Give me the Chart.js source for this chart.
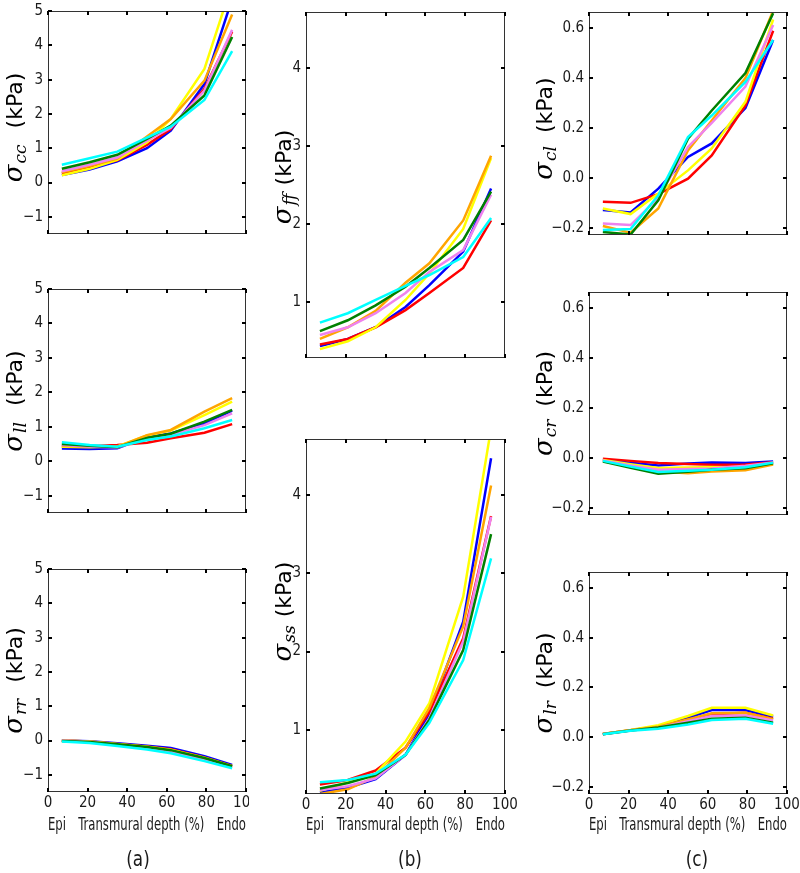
<!DOCTYPE html>
<html><head><meta charset="utf-8">
<script src="https://cdn.jsdelivr.net/npm/chart.js@4.4.0/dist/chart.umd.min.js"></script>
<style>
html,body{margin:0;padding:0;background:#fff;}
body{width:800px;height:873px;position:relative;overflow:hidden;}
canvas{position:absolute;}
.xt{position:absolute;display:flex;justify-content:space-between;font-family:'Liberation Sans Narrow','DejaVu Sans Condensed','Arial Narrow','Liberation Sans',sans-serif;font-size:18px;line-height:20px;color:#1a1a1a;white-space:nowrap;transform:scaleX(0.72);transform-origin:0 0;}
.pl{position:absolute;font-family:'Liberation Sans Narrow','DejaVu Sans Condensed','Arial Narrow','Liberation Sans',sans-serif;font-size:22px;line-height:24px;color:#1a1a1a;transform:translateX(-50%) scaleX(0.85);}
</style></head><body>
<script>
// ---- data ----
const depth = [7, 21, 35, 50, 62, 79, 93];
const xTicks = [0, 20, 40, 60, 80, 100];
const yTicksA = [-1, 0, 1, 2, 3, 4, 5];
const yTicksB = [1, 2, 3, 4];
const yTicksC = [-0.2, 0, 0.2, 0.4, 0.6];
// series order: cyan, green, violet, orange, yellow, red, blue
const seriesColors = ['#00ffff', '#008000', '#ee82ee', '#ffa500', '#ffff00', '#ff0000', '#0000ff'];

const sigma_cc = [
  [0.52, 0.71, 0.90, 1.31, 1.63, 2.41, 3.83],
  [0.40, 0.59, 0.81, 1.27, 1.66, 2.54, 4.24],
  [0.33, 0.52, 0.73, 1.22, 1.60, 2.68, 4.45],
  [0.30, 0.48, 0.70, 1.34, 1.85, 2.97, 4.90],
  [0.21, 0.40, 0.66, 1.17, 1.85, 3.31, 5.80],
  [0.27, 0.45, 0.65, 1.10, 1.56, 2.73, 4.40],
  [0.22, 0.38, 0.62, 1.00, 1.51, 2.87, 5.35]
];
const sigma_ll = [
  [0.55, 0.47, 0.42, 0.62, 0.72, 0.96, 1.20],
  [0.50, 0.45, 0.41, 0.68, 0.80, 1.15, 1.49],
  [0.47, 0.43, 0.40, 0.66, 0.77, 1.05, 1.39],
  [0.45, 0.42, 0.42, 0.76, 0.91, 1.44, 1.83],
  [0.42, 0.41, 0.43, 0.75, 0.89, 1.34, 1.73],
  [0.43, 0.44, 0.47, 0.54, 0.67, 0.83, 1.08],
  [0.37, 0.36, 0.38, 0.70, 0.81, 1.10, 1.47]
];
const sigma_rr = [
  [-0.03, -0.07, -0.16, -0.26, -0.37, -0.60, -0.81],
  [-0.01, -0.04, -0.11, -0.19, -0.28, -0.51, -0.75],
  [0.00, -0.04, -0.12, -0.21, -0.31, -0.55, -0.77],
  [-0.01, -0.04, -0.12, -0.20, -0.30, -0.53, -0.77],
  [0.00, -0.03, -0.10, -0.18, -0.27, -0.50, -0.75],
  [0.00, -0.03, -0.10, -0.17, -0.25, -0.49, -0.74],
  [0.00, -0.02, -0.08, -0.15, -0.22, -0.46, -0.71]
];
const sigma_ff = [
  [0.74, 0.86, 1.03, 1.21, 1.35, 1.58, 2.08],
  [0.63, 0.77, 0.96, 1.20, 1.44, 1.80, 2.42],
  [0.58, 0.68, 0.86, 1.12, 1.39, 1.67, 2.38],
  [0.53, 0.68, 0.89, 1.25, 1.50, 2.05, 2.88],
  [0.40, 0.50, 0.68, 1.03, 1.37, 1.94, 2.85],
  [0.46, 0.53, 0.68, 0.90, 1.12, 1.44, 2.05],
  [0.44, 0.53, 0.68, 0.94, 1.22, 1.65, 2.46]
];
const sigma_ss = [
  [0.33, 0.36, 0.44, 0.68, 1.09, 1.89, 3.19],
  [0.25, 0.32, 0.42, 0.68, 1.13, 2.02, 3.50],
  [0.23, 0.28, 0.38, 0.68, 1.15, 2.13, 3.72],
  [0.18, 0.24, 0.40, 0.77, 1.28, 2.32, 4.12],
  [0.22, 0.33, 0.44, 0.85, 1.34, 2.70, 4.85],
  [0.30, 0.36, 0.48, 0.77, 1.23, 2.17, 3.73],
  [0.20, 0.26, 0.37, 0.68, 1.21, 2.38, 4.47]
];
const sigma_cl = [
  [-0.209, -0.205, -0.070, 0.164, 0.250, 0.385, 0.553],
  [-0.217, -0.227, -0.090, 0.157, 0.270, 0.420, 0.660],
  [-0.183, -0.189, -0.080, 0.124, 0.220, 0.366, 0.613],
  [-0.193, -0.220, -0.123, 0.110, 0.230, 0.400, 0.670],
  [-0.123, -0.145, -0.063, 0.030, 0.118, 0.305, 0.635],
  [-0.096, -0.100, -0.065, -0.003, 0.090, 0.290, 0.590],
  [-0.129, -0.139, -0.043, 0.084, 0.138, 0.280, 0.553]
];
const sigma_cr = [
  [-0.012, -0.035, -0.057, -0.052, -0.048, -0.038, -0.019],
  [-0.015, -0.040, -0.064, -0.056, -0.048, -0.042, -0.022],
  [-0.010, -0.030, -0.048, -0.045, -0.043, -0.032, -0.018],
  [-0.012, -0.035, -0.055, -0.062, -0.055, -0.050, -0.027],
  [-0.008, -0.025, -0.041, -0.039, -0.037, -0.040, -0.024],
  [-0.003, -0.012, -0.021, -0.025, -0.028, -0.027, -0.018],
  [-0.008, -0.020, -0.031, -0.023, -0.019, -0.021, -0.015]
];
const sigma_lr = [
  [0.012, 0.026, 0.034, 0.051, 0.069, 0.074, 0.054],
  [0.012, 0.027, 0.039, 0.058, 0.074, 0.078, 0.058],
  [0.012, 0.027, 0.038, 0.064, 0.085, 0.087, 0.067],
  [0.013, 0.028, 0.042, 0.071, 0.096, 0.098, 0.072],
  [0.013, 0.029, 0.048, 0.085, 0.118, 0.118, 0.087],
  [0.013, 0.028, 0.042, 0.071, 0.092, 0.098, 0.074],
  [0.013, 0.028, 0.044, 0.078, 0.109, 0.109, 0.082]
];

// ---- layout ----
const TICK_FONT = "'Liberation Sans Narrow','DejaVu Sans Condensed','Arial Narrow','Liberation Sans',sans-serif";
const minus = s => s.replace('-', '\u2212');
const fmtA = v => minus(String(Math.round(v)));
const fmtC = v => minus((Math.abs(v) < 1e-9 ? 0 : v).toFixed(1));

const cols = {
  a: {left: 0, right: 249, tbase: 21.5, gap: 16},
  b: {left: 262, right: 520, tbase: 29, gap: 8},
  c: {left: 530, right: 800, tbase: 22, gap: 13}
};

const panels = [
  {col: 'a', data: sigma_cc, sub: 'cc', plot: [48, 11, 246, 234], y: [-1.5, 5], ticks: yTicksA, fmt: fmtA, xl: false, dy: 5},
  {col: 'a', data: sigma_ll, sub: 'll', plot: [48, 289, 246, 513], y: [-1.5, 5], ticks: yTicksA, fmt: fmtA, xl: false, dy: 0},
  {col: 'a', data: sigma_rr, sub: 'rr', plot: [48, 569, 246, 792], y: [-1.5, 5], ticks: yTicksA, fmt: fmtA, xl: true, dy: 0},
  {col: 'b', data: sigma_ff, sub: 'ff', plot: [306, 12, 505, 358], y: [0.286, 4.722], ticks: yTicksB, fmt: fmtA, xl: false, dy: -8},
  {col: 'b', data: sigma_ss, sub: 'ss', plot: [306, 439, 505, 794], y: [0.18, 4.715], ticks: yTicksB, fmt: fmtA, xl: true, dy: -5},
  {col: 'c', data: sigma_cl, sub: 'cl', plot: [589, 12, 787, 235], y: [-0.229, 0.665], ticks: yTicksC, fmt: fmtC, xl: false, dy: 5},
  {col: 'c', data: sigma_cr, sub: 'cr', plot: [589, 292, 787, 515], y: [-0.229, 0.665], ticks: yTicksC, fmt: fmtC, xl: false, dy: 0},
  {col: 'c', data: sigma_lr, sub: 'lr', plot: [589, 572, 787, 794], y: [-0.229, 0.665], ticks: yTicksC, fmt: fmtC, xl: true, dy: 0}
];

const framePlugin = {
  id: 'frame',
  afterDraw(chart) {
    const {ctx, chartArea: ca, scales} = chart;
    ctx.save();
    ctx.strokeStyle = '#333';
    ctx.lineWidth = 1;
    ctx.strokeRect(ca.left + 0.5, ca.top + 0.5, ca.right - ca.left - 1, ca.bottom - ca.top - 1);
    ctx.strokeStyle = '#000';
    ctx.lineWidth = 2;
    const L = 4;
    ctx.beginPath();
    scales.x.ticks.forEach(t => {
      const p = Math.round(scales.x.getPixelForValue(t.value));
      ctx.moveTo(p, ca.bottom); ctx.lineTo(p, ca.bottom - L);
      ctx.moveTo(p, ca.top); ctx.lineTo(p, ca.top + L);
    });
    scales.y.ticks.forEach(t => {
      const p = Math.round(scales.y.getPixelForValue(t.value));
      ctx.moveTo(ca.left, p); ctx.lineTo(ca.left + L, p);
      ctx.moveTo(ca.right, p); ctx.lineTo(ca.right - L, p);
    });
    ctx.stroke();
    ctx.restore();
  }
};

const titlePlugin = {
  id: 'ytitle',
  afterDraw(chart, args, opts) {
    const {ctx, chartArea: ca} = chart;
    const symFont = 'italic 26px "DejaVu Serif", serif';
    const subFont = 'italic 17px "DejaVu Serif", serif';
    const unitFont = '22px "DejaVu Sans", sans-serif';
    ctx.save();
    ctx.fillStyle = '#000';
    ctx.font = symFont; const w1 = ctx.measureText('\u03c3').width;
    ctx.font = subFont; const w2 = ctx.measureText(opts.sub).width;
    ctx.font = unitFont; const w3 = ctx.measureText('(kPa)').width;
    const total = w1 + 1 + w2 + opts.gap + w3;
    ctx.translate(opts.base, (ca.top + ca.bottom) / 2 + opts.dy);
    ctx.rotate(-Math.PI / 2);
    ctx.textBaseline = 'alphabetic';
    ctx.textAlign = 'left';
    let x = -total / 2;
    ctx.font = symFont; ctx.fillText('\u03c3', x, 0); x += w1 + 1;
    ctx.font = subFont; ctx.fillText(opts.sub, x, 4); x += w2 + opts.gap;
    ctx.font = unitFont; ctx.fillText('(kPa)', x, 0);
    ctx.restore();
  }
};

panels.forEach(p => {
  const c = cols[p.col];
  const [l, t, r, b] = p.plot;
  const W = l - c.left;
  const xH = p.xl ? 30 : 0;
  const padB = p.xl ? 0 : 6;
  const width = c.right - c.left;
  const height = (b - t) + 10 + xH + padB;
  const cv = document.createElement('canvas');
  cv.width = width; cv.height = height;
  cv.style.left = c.left + 'px'; cv.style.top = (t - 10) + 'px';
  cv.style.width = width + 'px'; cv.style.height = height + 'px';
  document.body.appendChild(cv);
  new Chart(cv, {
    type: 'line',
    data: {
      labels: depth,
      datasets: p.data.map((vals, i) => ({
        data: vals.map((v, j) => ({x: depth[j], y: v})),
        borderColor: seriesColors[i],
        borderWidth: 2.5,
        pointRadius: 0,
        tension: 0,
        fill: false
      }))
    },
    options: {
      responsive: false,
      animation: false,
      devicePixelRatio: 1,
      layout: {padding: {left: 0, top: 10, right: c.right - r, bottom: padB}},
      plugins: {legend: {display: false}, tooltip: {enabled: false}, ytitle: {sub: p.sub, base: c.tbase, gap: c.gap, dy: p.dy}},
      scales: {
        x: {
          type: 'linear', min: 0, max: 100,
          grid: {display: false, drawTicks: false},
          border: {display: false},
          afterBuildTicks: s => { s.ticks = xTicks.map(v => ({value: v})); },
          afterFit: s => { s.height = xH; s.paddingLeft = 0; s.paddingRight = 0; },
          ticks: {display: p.xl, autoSkip: false, maxRotation: 0, padding: 2, color: '#1a1a1a',
                  font: {family: TICK_FONT, size: 15}, callback: v => String(v)}
        },
        y: {
          type: 'linear', min: p.y[0], max: p.y[1],
          grid: {display: false, drawTicks: false},
          border: {display: false},
          afterBuildTicks: s => { s.ticks = p.ticks.map(v => ({value: v})); },
          afterFit: s => { s.width = W; s.paddingTop = 0; s.paddingBottom = 0; },
          ticks: {autoSkip: false, padding: 5, color: '#1a1a1a',
                  font: {family: TICK_FONT, size: 15}, callback: v => p.fmt(v)}
        }
      }
    },
    plugins: [framePlugin, titlePlugin]
  });
  if (p.xl) {
    const d = document.createElement('div');
    d.className = 'xt';
    d.style.left = l + 'px'; d.style.top = '814px'; d.style.width = ((r - l) / 0.72) + 'px';
    ['Epi', 'Transmural depth (%)', 'Endo'].forEach(s => { const sp = document.createElement('span'); sp.textContent = s; d.appendChild(sp); });
    document.body.appendChild(d);
  }
});

[['(a)', 138], ['(b)', 410], ['(c)', 697]].forEach(([s, x]) => {
  const d = document.createElement('div');
  d.className = 'pl'; d.textContent = s;
  d.style.left = x + 'px'; d.style.top = '847px';
  document.body.appendChild(d);
});
</script>
</body></html>
